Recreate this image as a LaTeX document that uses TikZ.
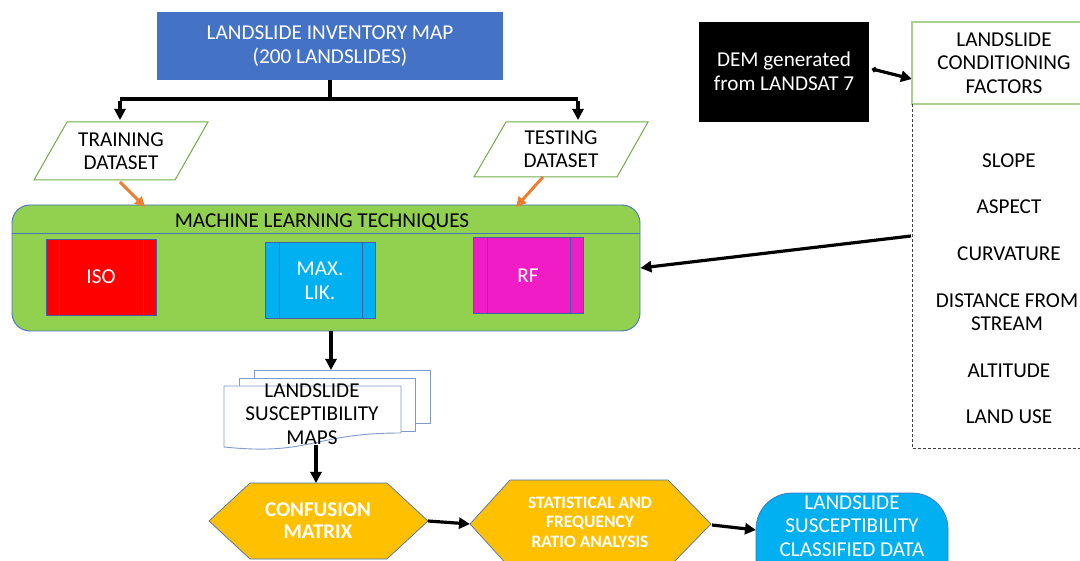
\documentclass[tikz,border=0pt]{standalone}
\usepackage{fontspec}
\setmainfont{Carlito}
\usetikzlibrary{arrows.meta,calc}
\definecolor{invblue}{HTML}{4472C4}
\definecolor{mlgreen}{HTML}{92D050}
\definecolor{pargreen}{HTML}{70AD47}
\definecolor{facgreen}{HTML}{A9D18E}
\definecolor{arrorange}{HTML}{ED7D31}
\definecolor{isored}{HTML}{FF0000}
\definecolor{likcyan}{HTML}{00B0F0}
\definecolor{rfmag}{HTML}{F01CC6}
\definecolor{gold}{HTML}{FFC000}
\definecolor{boxbd}{HTML}{3F5FA6}
\definecolor{docbd}{HTML}{7F9BCB}
\begin{document}
\begin{tikzpicture}[x=1pt,y=-1pt,
  txt/.style={font=\fontsize{21.2}{23.5}\selectfont, align=center, inner sep=0pt},
  wtxt/.style={txt, text=white},
  btxt/.style={font=\bfseries\fontsize{21}{22}\selectfont, align=center, inner sep=0pt, text=white},
  stxt/.style={font=\bfseries\fontsize{17.5}{19.5}\selectfont, align=center, inner sep=0pt, text=white},
  blk/.style={line width=3.2pt, -{Triangle[length=11pt,width=11pt]}},
  org/.style={line width=3pt, arrorange, -{Triangle[length=10pt,width=10pt]}},
  procbox/.style={draw=boxbd, line width=0.8pt, minimum width=110, minimum height=76, inner sep=0pt},
  hexbd/.style={draw=invblue, line width=0.7pt, fill=gold},
  docline/.style={draw=docbd, line width=0.9pt, fill=white},
  parbd/.style={draw=pargreen, line width=1pt, fill=white}
]
\useasboundingbox (0,0) rectangle (1080,561);
\clip (0,0) rectangle (1080,561);

% inventory map
\node[fill=invblue, minimum width=346, minimum height=68, inner sep=0pt] (inv) at (330,46) {};
\node[wtxt] (invt) at (330,46) {LANDSLIDE INVENTORY MAP\\(200 LANDSLIDES)};

% split connector
\coordinate (split) at (330,99);
\coordinate (trL) at (120,99);
\coordinate (teR) at (578,99);
\coordinate (trTop) at (120,120);
\coordinate (teTop) at (578,120);
\draw[line width=3.2pt] (inv.south) -- (split);
\draw[line width=3.2pt] (trL) -- (teR);
\draw[blk] ([yshift=-1.6pt]trL) -- (trTop);
\draw[blk] ([yshift=-1.6pt]teR) -- (teTop);

% parallelograms
\draw[parbd] (67,122) -- (208,122) -- (175,180) -- (34,180) -- cycle;
\node[txt] (train) at (121,151) {TRAINING\\DATASET};
\draw[parbd] (506,122) -- (648,122) -- (617,177) -- (474,177) -- cycle;
\node[txt] (test) at (561,149) {TESTING\\DATASET};
\coordinate (trB) at (120,182);
\coordinate (teB) at (543,177);

% ML box
\node[draw=invblue, line width=0.9pt, fill=mlgreen, rounded corners=18pt, minimum width=628, minimum height=126, inner sep=0pt] (ml) at (326,268) {};
\draw[invblue, line width=0.9pt] (ml.west |- 0,233) -- (ml.east |- 0,233);
\node[txt] (mlt) at (322,222) {MACHINE LEARNING TECHNIQUES};
\coordinate (mlTL) at (145,207);
\coordinate (mlTR) at (516,207);
\draw[org] (trB) -- (mlTL);
\draw[org] (teB) -- (mlTR);

\node[procbox, fill=isored] (iso) at (101,277) {};
\draw[boxbd, line width=0.8pt] (59,239) -- (59,315) (143,239) -- (143,315);
\node[wtxt] (isot) at (101,277) {ISO};
\node[procbox, fill=likcyan] (lik) at (320,280) {};
\draw[boxbd, line width=0.8pt] (279,242) -- (279,318) (362,242) -- (362,318);
\node[wtxt] (likt) at (320,281) {MAX.\\LIK.};
\node[procbox, fill=rfmag] (rf) at (528,275) {};
\draw[boxbd, line width=0.8pt] (487,237) -- (487,313) (570,237) -- (570,313);
\node[wtxt] (rft) at (528,276) {RF};

% documents
\draw[docline] (254,370) rectangle (430,423);
\draw[docline] (239,378) rectangle (415,431);
\draw[docline] (224,386) -- (401,386) -- (401,433) .. controls (312,433) and (312,456) .. (224,447) -- cycle;
\node[txt] (maps) at (312,414) {LANDSLIDE\\SUSCEPTIBILITY\\MAPS};
\coordinate (docTop) at (331,370);
\coordinate (docBot) at (316,445);
\draw[blk] (ml.south -| docTop) -- (docTop);

% confusion hexagon
\draw[hexbd] (209,521) -- (250,483) -- (387,483) -- (428,521) -- (387,559) -- (250,559) -- cycle;
\node[btxt] (conf) at (318,521) {CONFUSION\\MATRIX};
\coordinate (confTop) at (316,483);
\coordinate (confR) at (428,521);
\draw[blk] (docBot) -- (confTop);

% statistical hexagon
\draw[hexbd] (470,524) -- (510,480) -- (668,480) -- (711,524) -- (668,568) -- (510,568) -- cycle;
\node[stxt] (stat) at (590,522) {STATISTICAL AND\\FREQUENCY\\RATIO ANALYSIS};
\coordinate (statL) at (470,524);
\coordinate (statR) at (712,525);
\draw[blk] (confR) -- (statL);

% classified data
\node[fill=likcyan, draw=invblue, line width=0.7pt, rounded corners=36pt, minimum width=192, minimum height=110, inner sep=0pt] (cls) at (852,548) {};
\node[wtxt] (clst) at (852,526) {LANDSLIDE\\SUSCEPTIBILITY\\CLASSIFIED DATA};
\coordinate (clsL) at (756,530);
\draw[blk] (statR) -- (clsL);

% DEM
\node[fill=black, minimum width=170, minimum height=100, inner sep=0pt] (dem) at (784,72) {};
\node[wtxt] (demt) at (784,71) {DEM generated\\from LANDSAT 7};
\coordinate (demR) at (872,69);
\coordinate (facL) at (912,79);
\draw[line width=3.2pt, {Circle[length=5pt]}-{Triangle[length=11pt,width=11pt]}] (demR) -- (facL);

% factors
\draw[facgreen, line width=1.2pt] (912,22) rectangle (1095,104);
\node[txt] (fac) at (1004,63) {LANDSLIDE\\CONDITIONING\\FACTORS};
\draw[black!75, line width=0.9pt, dash pattern=on 3pt off 2pt] (912,104) -- (912,448) -- (1095,448);
\node[txt] (f1) at (1009,161) {SLOPE};
\node[txt] (f2) at (1009,207) {ASPECT};
\node[txt] (f3) at (1009,254) {CURVATURE};
\node[txt] (f4) at (1007,312) {DISTANCE FROM\\STREAM};
\node[txt] (f5) at (1009,371) {ALTITUDE};
\node[txt] (f6) at (1009,417) {LAND USE};
\coordinate (listL) at (911,236);
\draw[blk] (listL) -- (ml.east);
\end{tikzpicture}
\end{document}
